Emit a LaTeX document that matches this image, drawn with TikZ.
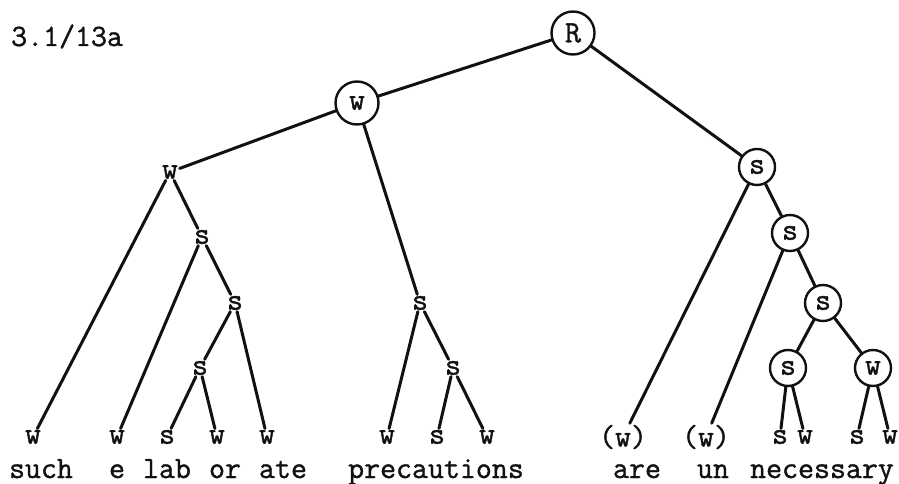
\documentclass[tikz,border=0pt]{standalone}
\usepackage{fontspec}
\newfontfamily\typefam{Latin Modern Mono}[FakeBold=1.2]
\usepackage{tikz}
\usetikzlibrary{positioning}
\definecolor{kink}{HTML}{111111}
\newcommand{\typed}{\typefam\fontsize{31}{34}\selectfont}
\tikzset{
  lbl/.style={font=\typed, text=kink, inner sep=1.5pt},
  ring/.style={lbl, circle, draw=kink, line width=2.4pt, minimum size=36pt, inner sep=0pt},
  bigring/.style={ring, minimum size=43pt},
  word/.style={font=\typed, text=kink, inner sep=0pt, anchor=base},
  edge/.style={kink, line width=3pt, line cap=round}
}

\begin{document}
\begin{tikzpicture}[x=1pt, y=-1pt]

  \useasboundingbox (0,0) rectangle (899,484);

  \node[word, anchor=base west] (title) at (11,46) {3.1/13a};

  %% circled nodes
  \node[bigring] (R)  at (573,33)  {R};
  \node[bigring] (wA) at (357,103) {w};
  \node[ring]    (sA) at (757,167) {s};
  \node[ring]    (sB) at (790,233) {s};
  \node[ring]    (sC) at (823,303) {s};
  \node[ring]    (sD) at (788,368) {s};
  \node[ring]    (wB) at (873,368) {w};

  %% plain inner nodes
  \node[lbl] (w1) at (170,172) {w};
  \node[lbl] (s1) at (202,237) {s};
  \node[lbl] (s2) at (235,303) {s};
  \node[lbl] (s3) at (200,368) {s};
  \node[lbl] (s4) at (420,303) {s};
  \node[lbl] (s5) at (453,368) {s};

  %% leaves
  \foreach \n/\x/\t in {l1/33/w, l2/117/w, l3/167/s, l4/217/w, l5/267/w,
                        l6/387/w, l7/437/s, l8/487/w,
                        l9/623/(w), l10/706/(w), l11/780/s, l12/805/w,
                        l13/857/s, l14/890/w}
    \node[lbl] (\n) at (\x,437) {\t};

  %% words
  \node[word] (such)  at (41,478)  {such};
  \node[word] (e)     at (117,478) {e};
  \node[word] (lab)   at (167,478) {lab};
  \node[word] (or)    at (225,478) {or};
  \node[word] (ate)   at (283,478) {ate};
  \node[word] (prec)  at (436,478) {precautions};
  \node[word] (are)   at (637,478) {are};
  \node[word] (un)    at (713,478) {un};
  \node[word] (nec)   at (822,478) {necessary};

  %% branches
  \foreach \a/\b in {R/wA, R/sA, wA/w1, wA/s4,
                     w1/l1, w1/s1, s1/l2, s1/s2, s2/s3, s2/l5, s3/l3, s3/l4,
                     s4/l6, s4/s5, s5/l7, s5/l8,
                     sA/l9, sA/sB, sB/l10, sB/sC, sC/sD, sC/wB,
                     sD/l11, sD/l12, wB/l13, wB/l14}
    \draw[edge] (\a) -- (\b);

\end{tikzpicture}
\end{document}
